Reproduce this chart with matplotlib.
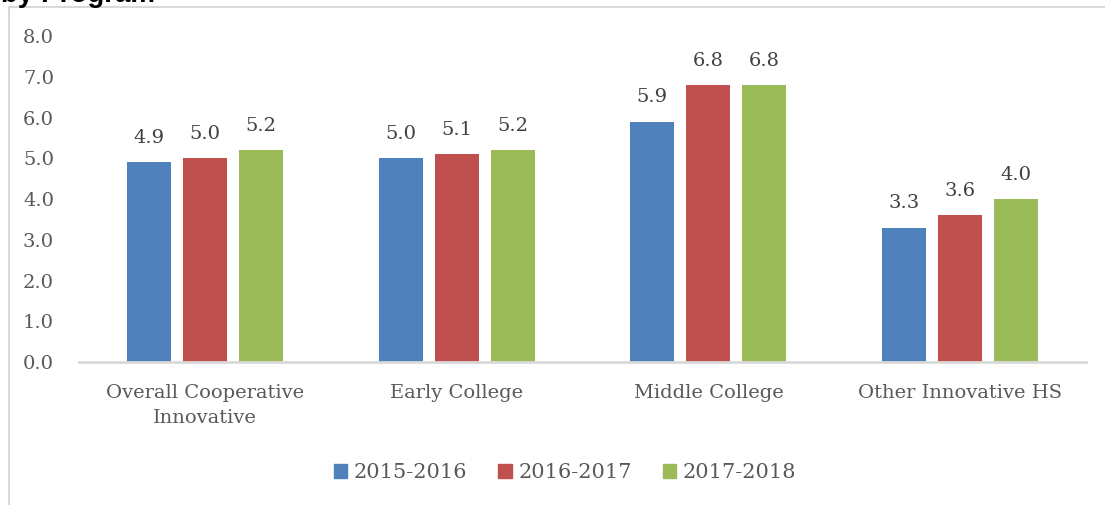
import matplotlib
matplotlib.use("Agg")
import matplotlib.pyplot as plt
import numpy as np
from matplotlib.patches import Rectangle
from matplotlib.lines import Line2D

categories = ["Overall Cooperative\nInnovative", "Early College", "Middle College", "Other Innovative HS"]
series_names = ["2015-2016", "2016-2017", "2017-2018"]
v2015 = [4.9, 5.0, 5.9, 3.3]
v2016 = [5.0, 5.1, 6.8, 3.6]
v2017 = [5.2, 5.2, 6.8, 4.0]
yticks = [0.0, 1.0, 2.0, 3.0, 4.0, 5.0, 6.0, 7.0, 8.0]

colors = ["#4F81BD", "#C0504D", "#9BBB59"]
txt = "#595959"
serif = ["DejaVu Serif"]
fs = 14

W, H = 1105, 505
fig = plt.figure(figsize=(W / 100, H / 100), dpi=100)
ax = fig.add_axes([79 / W, (H - 362) / H, (1086 - 79) / W, (362 - 36) / H])

x = np.arange(len(categories))
bw = 44 / 252
off = 56 / 252
for i, (vals, c, name) in enumerate(zip([v2015, v2016, v2017], colors, series_names)):
    bars = ax.bar(x + (i - 1) * off, vals, width=bw, color=c, label=name, zorder=2)
    for b, v in zip(bars, vals):
        ax.annotate(f"{v:.1f}", (b.get_x() + b.get_width() / 2, v), xytext=(0, 11),
                    textcoords="offset points", ha="center", va="bottom",
                    fontsize=fs, color="#404040", family=serif)

ax.set_xlim(-0.5, len(categories) - 0.5)
ax.set_ylim(0, 8)
ax.set_yticks(yticks)
ax.set_yticklabels([f"{t:.1f}" for t in yticks], fontsize=fs, color=txt, family=serif)
ax.set_xticks(x)
ax.set_xticklabels(categories, fontsize=fs, color=txt, family=serif, linespacing=1.5)
ax.tick_params(axis="both", length=0)
ax.tick_params(axis="y", pad=18)
ax.tick_params(axis="x", pad=16)
for s in ["top", "right", "left"]:
    ax.spines[s].set_visible(False)
ax.spines["bottom"].set_color("#d9d9d9")
ax.spines["bottom"].set_linewidth(2)

handles = [Rectangle((0, 0), 1, 1, color=c) for c in colors]
fig.legend(handles, series_names, loc="center", bbox_to_anchor=(565 / W, (H - 473) / H),
           ncol=3, frameon=False, prop={"family": serif, "size": 15},
           labelcolor=txt, handlelength=0.65, handleheight=0.65, handletextpad=0.3,
           columnspacing=1.5)

# chart border
fig.add_artist(Line2D([8.5 / W, 8.5 / W], [0, (H - 7) / H], color="#d9d9d9", lw=1.5))
fig.add_artist(Line2D([8.5 / W, 1], [(H - 7) / H, (H - 7) / H], color="#d9d9d9", lw=1.5))

# cut-off title
fig.text(1 / W, 1.0 - 2 / H, "by Program", ha="left", va="baseline", fontsize=20,
         fontweight="bold", family=["Liberation Sans", "DejaVu Sans"], color="black")

fig.savefig("out.png", dpi=100)
